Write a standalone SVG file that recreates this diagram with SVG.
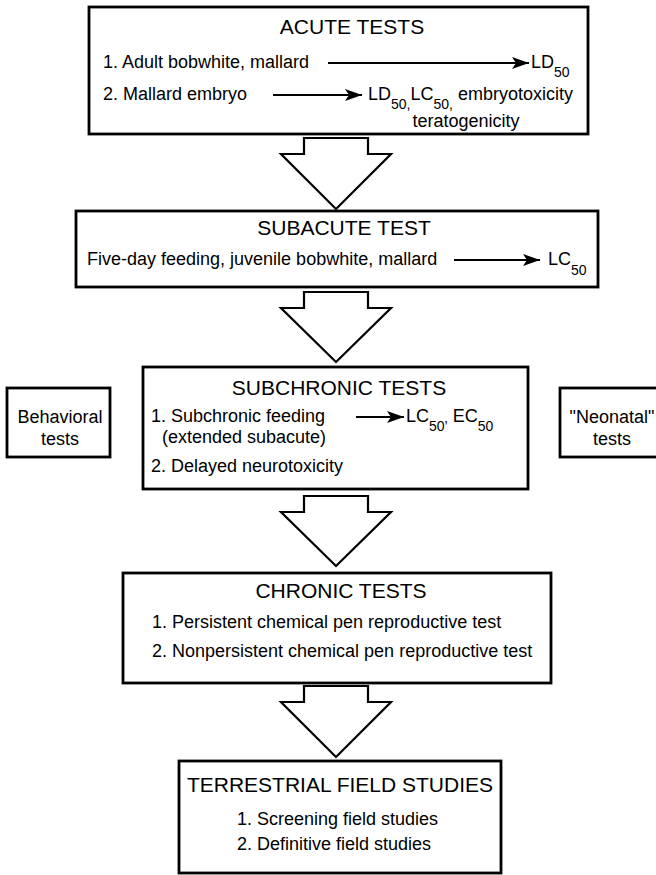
<svg xmlns="http://www.w3.org/2000/svg" width="656" height="875" viewBox="0 0 656 875">
<defs>
<style>
.box{fill:#fff;stroke:#000;stroke-width:2.8}
.big{fill:#fff;stroke:#000;stroke-width:2.2;stroke-linejoin:miter}
.ln{stroke:#000;stroke-width:2.2;fill:none}
text{font-family:"Liberation Sans",Arial,Helvetica,sans-serif;fill:#000}
.t{font-size:21px;text-anchor:middle}
.b{font-size:18px}
.c{font-size:18px;text-anchor:middle}
.s{font-size:14px}
</style>
<marker id="ah" markerUnits="userSpaceOnUse" markerWidth="18" markerHeight="13" refX="17" refY="6.5" orient="auto">
<path d="M0,0.5 L17,6.5 L0,12.5 L4,6.5 z" fill="#000"/>
</marker>
</defs>
<rect width="656" height="875" fill="#fff"/>

<g id="acute">
<rect class="box" x="89" y="7" width="499" height="127"/>
<text class="t" x="352" y="34">ACUTE TESTS</text>
<text class="b" x="103" y="68">1. Adult bobwhite, mallard</text>
<text class="b" x="531" y="68">LD<tspan class="s" dy="9">50</tspan></text>
<text class="b" x="103" y="100">2. Mallard embryo</text>
<text class="b" x="368" y="100">LD<tspan class="s" dy="9">50,</tspan><tspan dy="-9">LC</tspan><tspan class="s" dy="9">50,</tspan><tspan dy="-9"> embryotoxicity</tspan></text>
<text class="c" x="466" y="127">teratogenicity</text>
</g>

<g id="subacute">
<rect class="box" x="76" y="211" width="522" height="76"/>
<text class="t" x="344" y="235">SUBACUTE TEST</text>
<text class="b" x="87" y="265">Five-day feeding, juvenile bobwhite, mallard</text>
<text class="b" x="548" y="265">LC<tspan class="s" dy="10">50</tspan></text>
</g>

<g id="subchronic">
<rect class="box" x="143" y="367" width="385" height="122"/>
<text class="t" x="339" y="395">SUBCHRONIC TESTS</text>
<text class="b" x="151" y="422">1. Subchronic feeding</text>
<text class="b" x="162" y="443">(extended subacute)</text>
<text class="b" x="406" y="422">LC<tspan class="s" dy="9">50’</tspan><tspan dy="-9">  EC</tspan><tspan class="s" dy="9">50</tspan></text>
<text class="b" x="151" y="472">2. Delayed neurotoxicity</text>
</g>

<g id="behavioral">
<rect class="box" x="7" y="388" width="103" height="69"/>
<text class="c" x="60" y="423">Behavioral</text>
<text class="c" x="60" y="445">tests</text>
</g>

<g id="neonatal">
<rect class="box" x="560" y="388" width="104" height="69"/>
<text class="c" x="612" y="423">"Neonatal"</text>
<text class="c" x="612" y="445">tests</text>
</g>

<g id="chronic">
<rect class="box" x="123" y="573" width="428" height="110"/>
<text class="t" x="341" y="598">CHRONIC TESTS</text>
<text class="b" x="152" y="628">1. Persistent chemical pen reproductive test</text>
<text class="b" x="152" y="657">2. Nonpersistent chemical pen reproductive test</text>
</g>

<g id="terrestrial">
<rect class="box" x="179" y="761" width="322" height="112"/>
<text class="t" x="340" y="792">TERRESTRIAL FIELD STUDIES</text>
<text class="b" x="237" y="825">1. Screening field studies</text>
<text class="b" x="237" y="850">2. Definitive field studies</text>
</g>

<g id="connectors">
<polygon class="big" points="304,138 368,138 368,154 391,154 336,209 281,154 304,154"/>
<polygon class="big" points="304,292 368,292 368,308 391,308 336,362 281,308 304,308"/>
<polygon class="big" points="304,496 368,496 368,512 391,512 336,566 281,512 304,512"/>
<polygon class="big" points="304,686 368,686 368,702 391,702 336,757 281,702 304,702"/>
<line class="ln" x1="328" y1="63" x2="529" y2="63" marker-end="url(#ah)"/>
<line class="ln" x1="273" y1="95" x2="362" y2="95" marker-end="url(#ah)"/>
<line class="ln" x1="454" y1="260" x2="540" y2="260" marker-end="url(#ah)"/>
<line class="ln" x1="356" y1="417" x2="404" y2="417" marker-end="url(#ah)"/>
</g>
</svg>
